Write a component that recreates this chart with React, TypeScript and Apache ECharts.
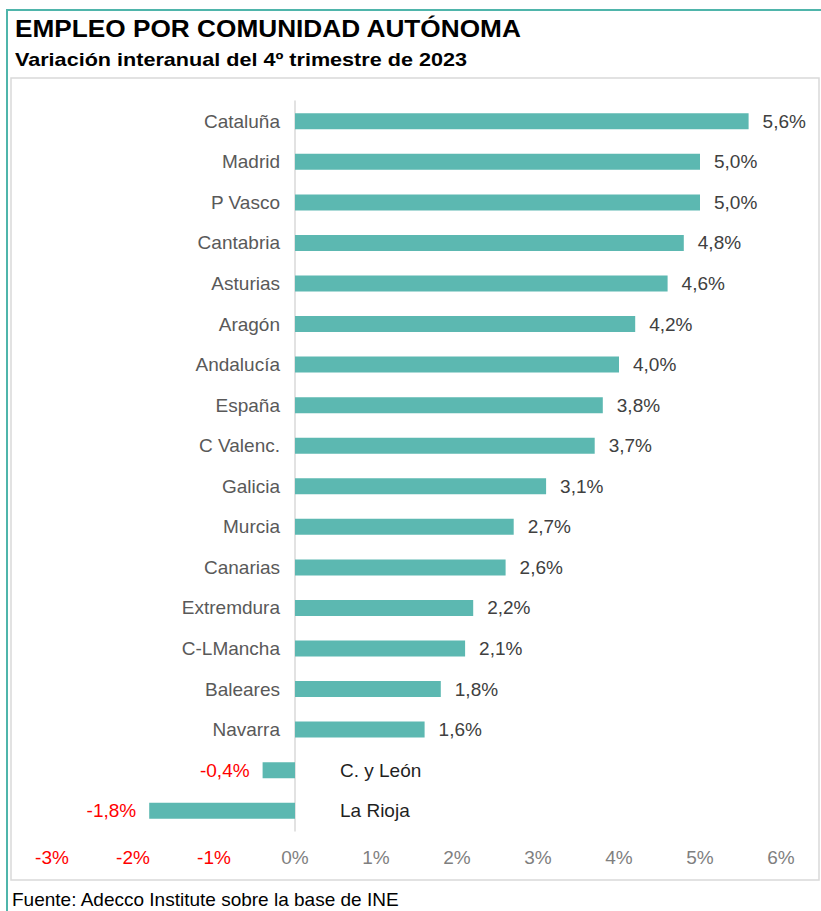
import { useEffect, useRef } from "react";
import * as echarts from "echarts";

const categories = [
  "Cataluña", "Madrid", "P Vasco", "Cantabria", "Asturias", "Aragón", "Andalucía", "España",
  "C Valenc.", "Galicia", "Murcia", "Canarias", "Extremdura", "C-LMancha", "Baleares", "Navarra",
  "C. y León", "La Rioja",
];
const values = [5.6, 5.0, 5.0, 4.8, 4.6, 4.2, 4.0, 3.8, 3.7, 3.1, 2.7, 2.6, 2.2, 2.1, 1.8, 1.6, -0.4, -1.8];
const axisMin = -3;
const axisMax = 6;
const axisInterval = 1;

const titleText = "EMPLEO POR COMUNIDAD AUTÓNOMA";
const subtitleText = "Variación interanual del 4º trimestre de 2023";
const sourceText = "Fuente: Adecco Institute sobre la base de INE";

const FONT = "'Liberation Sans', Arial, Helvetica, sans-serif";
const fmt = (v: number) => v.toFixed(1).replace(".", ",") + "%";

export default function App() {
  const ref = useRef<HTMLDivElement>(null);
  useEffect(() => {
    if (!ref.current) return;
    const chart = echarts.init(ref.current, undefined, { renderer: "svg" });
    const barColor = "#5CB8B1";
    const nameData = values.map((v) => ({
      value: v,
      label:
        v >= 0
          ? { position: "left", distance: 15, color: "#595959" }
          : { position: "right", distance: 45, color: "#1F1F1F" },
    }));
    const valueData = values.map((v) => ({
      value: v,
      label:
        v >= 0
          ? { position: "right", distance: 14, color: "#404040" }
          : { position: "left", distance: 13, color: "#FF0000" },
    }));
    chart.setOption({
      animation: false,
      textStyle: { fontFamily: FONT },
      grid: { left: 52, right: 40, top: 101, bottom: 80, containLabel: false },
      xAxis: {
        type: "value",
        min: axisMin,
        max: axisMax,
        interval: axisInterval,
        axisLine: { show: false },
        axisTick: { show: false },
        splitLine: { show: false },
        axisLabel: {
          margin: 17,
          fontSize: 19,
          fontFamily: FONT,
          formatter: (v: number) => `${v}%`,
          color: (v: any) => (Number(v) < 0 ? "#FF0000" : "#7F7F7F"),
        },
      },
      yAxis: {
        type: "category",
        inverse: true,
        data: categories,
        axisLine: { show: true, onZero: true, lineStyle: { color: "#D9D9D9", width: 1.5 } },
        axisTick: { show: false },
        axisLabel: { show: false },
        splitLine: { show: false },
      },
      series: [
        {
          type: "bar",
          barWidth: 16,
          itemStyle: { color: barColor },
          label: { show: true, formatter: "{b}", fontSize: 19, fontFamily: FONT },
          data: nameData,
          z: 2,
        },
        {
          type: "bar",
          barWidth: 16,
          barGap: "-100%",
          itemStyle: { color: "rgba(0,0,0,0)" },
          label: {
            show: true,
            fontSize: 19,
            fontFamily: FONT,
            formatter: (p: any) => fmt(p.value),
          },
          data: valueData,
          z: 3,
        },
      ],
      graphic: [
        {
          type: "rect",
          shape: { x: 7, y: 10, width: 840, height: 940 },
          style: { fill: "none", stroke: "#4FB5AB", lineWidth: 2 },
          silent: true,
        },
        {
          type: "rect",
          shape: { x: 11, y: 78, width: 808, height: 802 },
          style: { fill: "none", stroke: "#D9D9D9", lineWidth: 1.5 },
          silent: true,
        },
        {
          type: "text",
          x: 15,
          y: 29,
          scaleX: 1.14,
          style: {
            text: titleText,
            font: `bold 23px ${FONT}`,
            fill: "#000",
            verticalAlign: "middle",
          },
        },
        {
          type: "text",
          x: 15,
          y: 60,
          scaleX: 1.2,
          style: {
            text: subtitleText,
            font: `bold 18px ${FONT}`,
            fill: "#000",
            verticalAlign: "middle",
          },
        },
        {
          type: "text",
          x: 12,
          y: 899,
          style: {
            text: sourceText,
            font: `19px ${FONT}`,
            fill: "#000",
            verticalAlign: "middle",
          },
        },
      ],
    });
    return () => chart.dispose();
  }, []);
  return (
    <div
      ref={ref}
      style={{ position: "fixed", left: 0, top: 0, width: 821, height: 911, background: "#fff" }}
    />
  );
}
